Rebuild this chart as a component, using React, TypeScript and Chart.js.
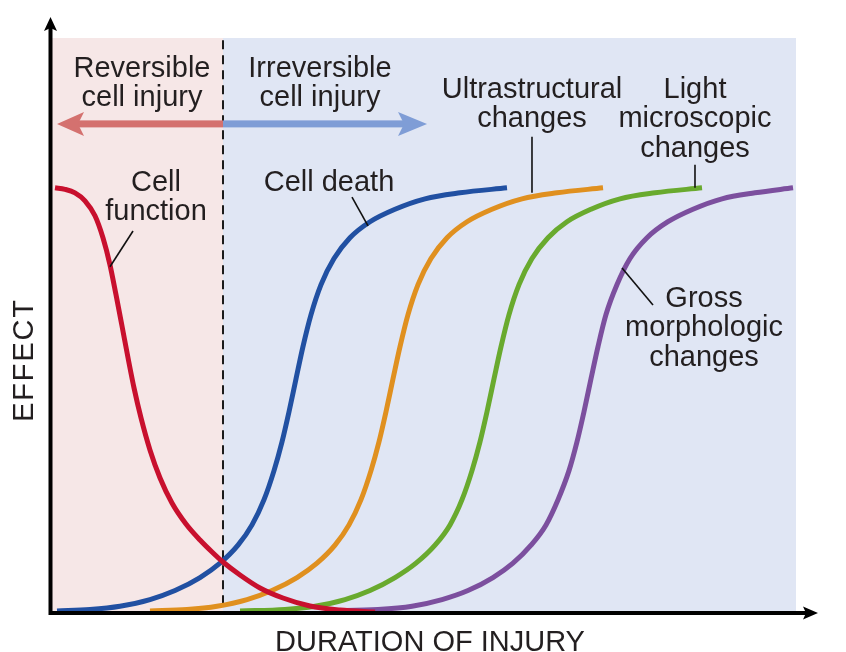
import React, { useEffect, useRef } from "react";
import { Chart, registerables } from "chart.js";

Chart.register(...registerables);

// Duration of injury (arbitrary units, 0..100) and effect (0..100 = full effect)
const cellFunctionX = [0.67, 2.01, 3.35, 4.69, 6.03, 7.1, 8.04, 8.85, 9.65, 10.46, 11.26, 12.2, 13.4, 14.75, 16.35, 18.23, 20.11, 21.72, 23.19, 25.47, 28.15, 31.23, 34.85, 38.87, 43.57];
const cellFunctionY = [99.76, 99.41, 98.59, 96.71, 93.18, 88.0, 81.65, 74.59, 67.29, 59.76, 52.71, 45.65, 38.12, 31.53, 25.65, 20.71, 16.94, 14.12, 11.76, 8.71, 5.65, 3.29, 1.41, 0.47, 0];

const cellDeathX = [0.94, 5.36, 9.38, 13.4, 16.76, 20.11, 22.79, 25.2, 27.08, 28.69, 30.03, 31.1, 32.04, 32.98, 33.91, 34.99, 36.33, 38.07, 40.21, 42.9, 46.25, 50.27, 54.96, 61.26];
const cellDeathY = [0.24, 0.59, 1.36, 2.92, 5.04, 8.09, 11.48, 15.72, 20.49, 26.42, 33.25, 40.02, 47.11, 54.85, 62.42, 69.95, 77.01, 83.13, 88.02, 91.79, 94.73, 97.18, 98.59, 99.76];

const ultrastructuralX = [13.4, 18.36, 22.39, 26.41, 29.76, 33.11, 35.79, 38.2, 40.08, 41.69, 43.03, 44.1, 45.04, 45.98, 46.92, 47.99, 49.33, 51.07, 53.22, 55.9, 59.25, 63.27, 67.96, 74.13];
const ultrastructuralY = [0.24, 0.59, 1.36, 2.92, 5.04, 8.09, 11.48, 15.72, 20.49, 26.42, 33.25, 40.02, 47.11, 54.85, 62.42, 69.95, 77.01, 83.13, 88.02, 91.79, 94.73, 97.18, 98.59, 99.76];

const lightMicroX = [25.47, 31.5, 35.52, 39.54, 42.9, 46.25, 49.06, 51.61, 53.62, 55.23, 56.57, 57.64, 58.58, 59.52, 60.46, 61.53, 62.87, 64.61, 66.76, 69.3, 72.52, 76.41, 81.1, 87.4];
const lightMicroY = [0.24, 0.59, 1.36, 2.92, 5.04, 8.09, 11.48, 15.72, 20.49, 26.42, 33.25, 40.02, 47.11, 54.85, 62.42, 69.95, 77.01, 83.13, 88.02, 91.79, 94.73, 97.18, 98.59, 99.76];

const grossX = [37.53, 43.97, 48.53, 52.55, 56.03, 59.38, 62.06, 64.48, 66.49, 68.1, 69.57, 70.64, 71.58, 72.52, 73.46, 74.53, 76.01, 77.75, 80.03, 82.84, 86.19, 90.08, 94.5, 99.6];
const grossY = [0.24, 0.59, 1.36, 2.92, 5.04, 8.09, 11.48, 15.72, 20.49, 26.42, 33.25, 40.02, 47.11, 54.85, 62.42, 69.95, 77.01, 83.13, 88.02, 91.79, 94.73, 97.18, 98.59, 99.76];

const seriesNames = ["Cell function", "Cell death", "Ultrastructural changes", "Light microscopic changes", "Gross morphologic changes"];
const curveLabelLines = [
  ["Cell", "function"],
  ["Cell death"],
  ["Ultrastructural", "changes"],
  ["Light", "microscopic", "changes"],
  ["Gross", "morphologic", "changes"],
];
const reversibleLines = ["Reversible", "cell injury"];
const irreversibleLines = ["Irreversible", "cell injury"];
const xTitle = "DURATION OF INJURY";
const yTitle = "EFFECT";
const irreversibleBoundary = 23.19;

const FONT = '29px "Liberation Sans", Arial, Helvetica, sans-serif';
const TEXT = "#231f20";

const pts = (xs: number[], ys: number[]) => xs.map((x, i) => ({ x, y: ys[i] }));

const decorPlugin = {
  id: "decor",
  beforeDatasetsDraw(chart: any) {
    const { ctx, scales } = chart;
    const X = (v: number) => scales.x.getPixelForValue(v);
    const Y = (v: number) => scales.y.getPixelForValue(v);
    ctx.save();
    ctx.fillStyle = "#f6e7e7";
    ctx.fillRect(X(0), Y(135), X(irreversibleBoundary) - X(0), Y(0) - Y(135));
    ctx.fillStyle = "#e0e6f4";
    ctx.fillRect(X(irreversibleBoundary), Y(135), X(100) - X(irreversibleBoundary), Y(0) - Y(135));
    ctx.strokeStyle = "#1a1a1a";
    ctx.lineWidth = 2;
    ctx.setLineDash([9, 6]);
    ctx.beginPath();
    ctx.moveTo(X(irreversibleBoundary), Y(134.5));
    ctx.lineTo(X(irreversibleBoundary), Y(1));
    ctx.stroke();
    ctx.setLineDash([]);

    const ay = Y(114.8);
    const bx = X(irreversibleBoundary);
    const lt = X(0.94);
    const rt = X(50.54);
    ctx.fillStyle = "#d4716f";
    ctx.fillRect(lt + 20, ay - 3.5, bx - lt - 20, 7);
    ctx.beginPath();
    ctx.moveTo(lt, ay);
    ctx.lineTo(lt + 27, ay - 12);
    ctx.lineTo(lt + 21, ay);
    ctx.lineTo(lt + 27, ay + 12);
    ctx.closePath();
    ctx.fill();
    ctx.fillStyle = "#7f9dd6";
    ctx.fillRect(bx, ay - 3.5, rt - 20 - bx, 7);
    ctx.beginPath();
    ctx.moveTo(rt, ay);
    ctx.lineTo(rt - 29, ay - 12);
    ctx.lineTo(rt - 23, ay);
    ctx.lineTo(rt - 29, ay + 12);
    ctx.closePath();
    ctx.fill();
    ctx.restore();
  },
  afterDatasetsDraw(chart: any) {
    const { ctx, scales, chartArea } = chart;
    const X = (v: number) => scales.x.getPixelForValue(v);
    const Y = (v: number) => scales.y.getPixelForValue(v);
    ctx.save();
    const ox = chartArea.left + 0.5;
    const oy = chartArea.bottom + 1;
    ctx.strokeStyle = "#000";
    ctx.fillStyle = "#000";
    ctx.lineWidth = 4;
    ctx.beginPath();
    ctx.moveTo(ox, oy + 2);
    ctx.lineTo(ox, 26);
    ctx.moveTo(ox - 2, oy);
    ctx.lineTo(808, oy);
    ctx.stroke();
    ctx.beginPath();
    ctx.moveTo(ox, 17);
    ctx.lineTo(ox + 6.5, 31);
    ctx.lineTo(ox, 28);
    ctx.lineTo(ox - 6.5, 31);
    ctx.closePath();
    ctx.fill();
    ctx.beginPath();
    ctx.moveTo(818, oy);
    ctx.lineTo(803, oy - 6.5);
    ctx.lineTo(806, oy);
    ctx.lineTo(803, oy + 6.5);
    ctx.closePath();
    ctx.fill();

    ctx.lineWidth = 1.6;
    ctx.strokeStyle = "#111";
    const leaders: [number, number, number, number][] = [
      [11.13, 89.6, 8.04, 81.2],
      [40.48, 97.6, 42.63, 90.8],
      [64.61, 111.8, 64.61, 98.6],
      [86.46, 105.2, 86.46, 99.8],
      [76.68, 80.9, 80.83, 72.2],
    ];
    leaders.forEach(([a, b, c, d]) => {
      ctx.beginPath();
      ctx.moveTo(X(a), Y(b));
      ctx.lineTo(X(c), Y(d));
      ctx.stroke();
    });

    ctx.font = FONT;
    ctx.fillStyle = TEXT;
    ctx.textAlign = "center";
    ctx.textBaseline = "alphabetic";
    const lh = 29.5;
    const drawLines = (lines: string[], x: number, y: number) => {
      lines.forEach((t, i) => ctx.fillText(t, X(x), Y(y) + i * lh));
    };
    drawLines(reversibleLines, 12.33, 125.9);
    drawLines(irreversibleLines, 36.19, 125.9);
    const anchors: [number, number][] = [
      [14.21, 99.06],
      [37.4, 99.06],
      [64.61, 120.9],
      [86.46, 120.9],
      [87.67, 71.76],
    ];
    curveLabelLines.forEach((lines, i) => drawLines(lines, anchors[i][0], anchors[i][1]));

    ctx.fillText(xTitle, 430, 651);
    ctx.save();
    ctx.translate(33, 361);
    ctx.rotate(-Math.PI / 2);
    (ctx as any).letterSpacing = "1.8px";
    ctx.fillText(yTitle, 1, 0);
    ctx.restore();
    ctx.restore();
  },
};

export default function App() {
  const ref = useRef<HTMLCanvasElement | null>(null);
  useEffect(() => {
    if (!ref.current) return;
    const colors = ["#c8102e", "#2150a2", "#e0901f", "#69aa2e", "#7c4f9e"];
    const series = [
      pts(cellFunctionX, cellFunctionY),
      pts(cellDeathX, cellDeathY),
      pts(ultrastructuralX, ultrastructuralY),
      pts(lightMicroX, lightMicroY),
      pts(grossX, grossY),
    ];
    const chart = new Chart(ref.current, {
      type: "line",
      data: {
        datasets: series.map((d, i) => ({
          label: seriesNames[i],
          data: d,
          borderColor: colors[i],
          backgroundColor: colors[i],
          borderWidth: 5,
          pointRadius: 0,
          cubicInterpolationMode: "monotone" as const,
          fill: false,
        })),
      },
      options: {
        animation: false,
        responsive: false,
        layout: { padding: { left: 50, right: 50, top: 38, bottom: 40 } },
        plugins: { legend: { display: false }, tooltip: { enabled: false } },
        scales: {
          x: { type: "linear", min: 0, max: 100, display: false },
          y: { type: "linear", min: 0, max: 135, display: false },
        },
        elements: { line: { borderCapStyle: "butt", borderJoinStyle: "round" } },
      },
      plugins: [decorPlugin],
    });
    return () => chart.destroy();
  }, []);
  return (
    <div style={{ position: "absolute", left: 0, top: 0, width: 846, height: 652, background: "#fff" }}>
      <canvas ref={ref} width={846} height={652} />
    </div>
  );
}
